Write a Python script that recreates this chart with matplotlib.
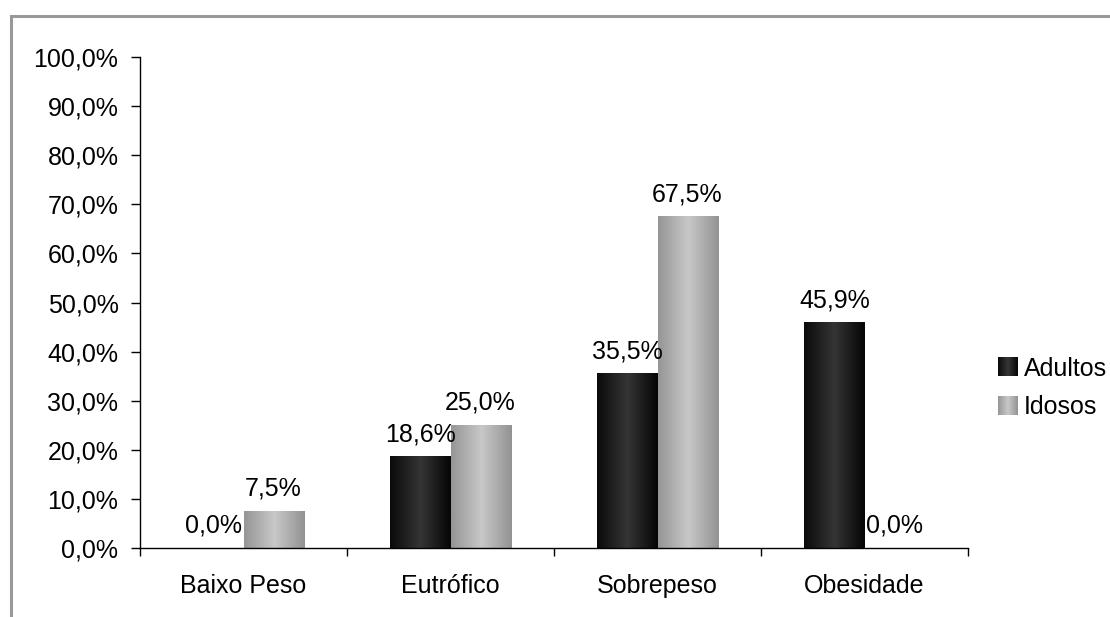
import matplotlib.pyplot as plt
import numpy as np
from matplotlib.patches import Rectangle
from matplotlib.legend_handler import HandlerBase
from matplotlib.colors import LinearSegmentedColormap

plt.rcParams['font.family'] = ['Liberation Sans', 'DejaVu Sans']

categories = ["Baixo Peso", "Eutrófico", "Sobrepeso", "Obesidade"]
adultos = [0.0, 18.6, 35.5, 45.9]
idosos = [7.5, 25.0, 67.5, 0.0]
series_names = ["Adultos", "Idosos"]

# gradient colours (edge, centre, edge)
grad_cols = {
    "Adultos": ["#0a0a0a", "#353535", "#050505"],
    "Idosos": ["#959595", "#c8c8c8", "#929292"],
}
cmaps = {k: LinearSegmentedColormap.from_list(k, v) for k, v in grad_cols.items()}

FS = 18

fig = plt.figure(figsize=(11.10, 6.17), dpi=100)
ax = fig.add_axes([140 / 1110, 69 / 617, 828 / 1110, 491 / 617])

x = np.arange(len(categories))
width = 0.29
grad = np.linspace(0, 1, 256).reshape(1, -1)

for i, (name, vals) in enumerate(zip(series_names, [adultos, idosos])):
    offset = (i - 0.5) * width
    rects = ax.bar(x + offset, vals, width, color='none', edgecolor='none', label=name)
    for r in rects:
        if r.get_height() > 0:
            ax.imshow(grad, cmap=cmaps[name], aspect='auto', interpolation='bilinear',
                      extent=(r.get_x(), r.get_x() + r.get_width(), 0, r.get_height()),
                      zorder=2)
    ax.bar_label(rects, labels=[f"{v:.1f}%".replace('.', ',') for v in vals],
                 padding=7.5, fontsize=FS)

ax.set_xlim(-0.5, len(categories) - 0.5)
ax.set_ylim(0, 100)

yt = np.arange(0, 101, 10)
ax.set_yticks(yt, [f"{v:.1f}%".replace('.', ',') for v in yt])
ax.set_xticks(x, categories)
ax.set_xticks(np.arange(-0.5, len(categories), 1), minor=True)
ax.tick_params(axis='y', direction='out', length=6.5, width=1, pad=9, labelsize=FS)
ax.tick_params(axis='x', which='major', length=0, pad=18.5, labelsize=FS)
ax.tick_params(axis='x', which='minor', direction='out', length=5.5, width=1)

for s in ['top', 'right']:
    ax.spines[s].set_visible(False)
for s in ['left', 'bottom']:
    ax.spines[s].set_linewidth(1)


class GradientHandler(HandlerBase):
    def __init__(self, cmap):
        super().__init__()
        self.cmap = cmap

    def create_artists(self, legend, orig_handle, xdescent, ydescent, width, height, fontsize, trans):
        n = 20
        size = height * 1.1
        x0 = -xdescent + width - size
        y0 = -ydescent + (height - size) / 2
        arts = []
        for k in range(n):
            c = self.cmap((k + 0.5) / n)
            arts.append(Rectangle((x0 + k * size / n, y0), size / n * 1.05, size,
                                  facecolor=c, edgecolor='none', transform=trans))
        return arts


handles, labels = ax.get_legend_handles_labels()
hmap = {h: GradientHandler(cmaps[l]) for h, l in zip(handles, labels)}
fig.legend(handles, labels, handler_map=hmap, loc='center left',
           bbox_to_anchor=(970 / 1110, 1 - 388 / 617), frameon=False,
           fontsize=FS, handlelength=1.0, handletextpad=0.25, labelspacing=0.6)

# outer chart border (clipped by the image edges)
fig.add_artist(Rectangle((11 / 1110, -0.2), 1.2, 1.2 - 16 / 617,
                         transform=fig.transFigure, facecolor='none',
                         edgecolor='#999999', linewidth=2.2))

fig.savefig('out.png', dpi=100)
